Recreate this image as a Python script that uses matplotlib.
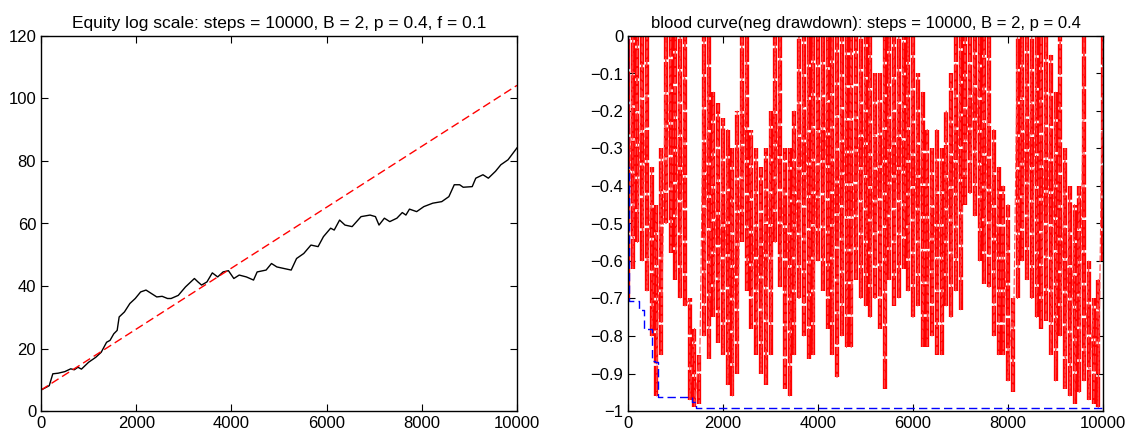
import numpy as np
import matplotlib
matplotlib.use('Agg')
import matplotlib.pyplot as plt

plt.rcParams['font.family'] = ['Liberation Sans', 'DejaVu Sans']

# left panel: log equity
eq_steps = [0, 173, 248, 361, 500, 625, 700, 776, 850, 1000, 1152, 1265, 1378, 1450, 1529, 1600,
            1642, 1753, 1867, 1980, 2093, 2206, 2319, 2432, 2545, 2658, 2733, 2884, 3035,
            3223, 3298, 3373, 3486, 3599, 3712, 3825, 3938, 4051, 4164, 4315, 4465, 4541,
            4729, 4842, 4955, 5105, 5256, 5369, 5520, 5671, 5821, 5934, 6085, 6160, 6273,
            6386, 6536, 6724, 6913, 7026, 7101, 7214, 7327, 7477, 7590, 7666, 7741, 7892,
            8042, 8230, 8419, 8569, 8682, 8795, 8870, 9059, 9134, 9285, 9398, 9548, 9661,
            9812, 10000]
eq_log = [6.7, 8.1, 11.9, 12.1, 12.6, 13.5, 13.2, 14.0, 13.4, 15.6, 17.2, 18.8, 22.0, 22.6,
          24.7, 25.8, 30.1, 31.7, 34.4, 36.0, 38.1, 38.7, 37.6, 36.5, 36.7, 36.0, 36.0,
          37.0, 39.7, 42.4, 41.3, 40.3, 41.3, 44.2, 42.9, 44.5, 44.9, 42.4, 43.5, 42.9,
          41.9, 44.5, 45.1, 47.2, 46.1, 45.6, 45.1, 48.8, 50.4, 53.1, 52.6, 55.8, 58.5,
          57.9, 61.1, 59.5, 59.0, 62.2, 62.7, 62.2, 59.5, 61.7, 60.6, 61.7, 63.5, 62.7,
          64.6, 63.8, 65.4, 66.5, 67.0, 68.6, 72.4, 72.4, 71.6, 71.8, 74.5, 75.6, 74.5,
          76.7, 78.8, 80.4, 84.2]
trend_steps = [0, 10000]
trend_log = [6.7, 104.2]

# right panel: drawdown envelope per 100 steps (top and bottom of the red band)
dd_steps = np.arange(0, 10001, 100)
dd_hi = [0, 0, 0, 0, 0, -0.35, -0.45, -0.30, 0, 0,
         0, 0, 0, -0.70, -0.78, -0.85, 0, 0, -0.15, -0.18,
         -0.22, -0.25, -0.30, -0.20, 0, 0, -0.25, -0.30, -0.35, -0.30,
         -0.20, 0, 0, -0.30, -0.30, -0.20, 0, 0, 0, 0,
         0, 0, 0, 0, 0, 0, 0, 0, 0, 0,
         0, 0, -0.10, -0.10, 0, 0, 0, 0, 0, 0,
         0, -0.10, -0.15, -0.25, -0.30, -0.25, -0.30, -0.20, -0.10, 0,
         0, 0, 0, 0, 0, 0, 0, -0.25, -0.35, -0.40,
         -0.45, -0.70, 0, 0, 0, 0, 0, 0, 0, -0.05,
         -0.15, 0, -0.30, -0.40, -0.45, -0.40, 0, -0.60, -0.70, -0.65,
         0]
dd_lo = [-0.70, -0.62, -0.55, -0.60, -0.68, -0.80, -0.96, -0.85, -0.50, -0.58,
         -0.65, -0.70, -0.72, -0.97, -0.99, -0.98, -0.80, -0.86, -0.75, -0.82,
         -0.85, -0.93, -0.96, -0.90, -0.55, -0.68, -0.78, -0.85, -0.90, -0.93,
         -0.85, -0.55, -0.67, -0.94, -0.96, -0.85, -0.70, -0.80, -0.86, -0.85,
         -0.60, -0.68, -0.78, -0.85, -0.91, -0.80, -0.83, -0.83, -0.65, -0.70,
         -0.72, -0.75, -0.70, -0.78, -0.94, -0.65, -0.72, -0.70, -0.62, -0.68,
         -0.75, -0.72, -0.83, -0.83, -0.80, -0.85, -0.85, -0.72, -0.75, -0.68,
         -0.73, -0.45, -0.42, -0.48, -0.60, -0.66, -0.67, -0.80, -0.85, -0.85,
         -0.92, -0.95, -0.70, -0.60, -0.65, -0.70, -0.75, -0.78, -0.76, -0.85,
         -0.92, -0.80, -0.94, -0.96, -0.98, -0.95, -0.92, -0.97, -0.98, -0.99,
         -0.60]
# running worst drawdown (blue step line)
worst_steps = [0, 8, 15, 30, 240, 330, 505, 560, 625, 1350, 1440, 10000]
worst_dd = [0, -0.35, -0.66, -0.707, -0.73, -0.78, -0.867, -0.87, -0.962, -0.975, -0.993, -0.993]

fig = plt.figure(figsize=(11.32, 4.36), dpi=100)
ax1 = fig.add_axes([41 / 1132, 25 / 436, 476 / 1132, 375 / 436])
ax2 = fig.add_axes([628 / 1132, 25 / 436, 475 / 1132, 375 / 436])

ax1.plot(eq_steps, eq_log, color='black', lw=1.0)
ax1.plot(trend_steps, trend_log, color='#ff0000', lw=1.0, dashes=(6, 3))
ax1.set_xlim(0, 10000)
ax1.set_ylim(0, 120)
ax1.set_xticks(range(0, 10001, 2000))
ax1.set_yticks(range(0, 121, 20))
ax1.set_title('Equity log scale: steps = 10000, B = 2, p = 0.4, f = 0.1', fontsize=12.5, pad=6)

# each 100-step column drawn as a dashed red bar, plus a zigzag joining them
bars = ax2.vlines(dd_steps, dd_lo, dd_hi, color='#ff0000', lw=3.1, linestyles=(0, (7, 0.6)))
bars.set_capstyle('butt')
zz_x = np.repeat(dd_steps, 2)
zz_y = np.column_stack([dd_hi, dd_lo]).ravel()
ax2.plot(zz_x, zz_y, color='#ff4040', lw=0.8, dashes=(6, 2))
ax2.plot(worst_steps, worst_dd, color='#0000ff', lw=1.0, dashes=(6, 3), drawstyle='steps-post')
ax2.set_xlim(0, 10000)
ax2.set_ylim(-1, 0)
ax2.set_xticks(range(0, 10001, 2000))
yt = np.round(np.arange(-1, 0.01, 0.1), 1)
ax2.set_yticks(yt)
ax2.set_yticklabels(['\u22121' if v == -1 else ('0' if v == 0 else '\u2212%g' % abs(v)) for v in yt])
ax2.set_title('blood curve(neg drawdown): steps = 10000, B = 2, p = 0.4', fontsize=12, pad=6)

for ax in (ax1, ax2):
    ax.tick_params(direction='in', top=True, right=True, length=5, labelsize=12, width=0.8)
    for s in ax.spines.values():
        s.set_linewidth(1.0)

fig.savefig('out.png', dpi=100)
